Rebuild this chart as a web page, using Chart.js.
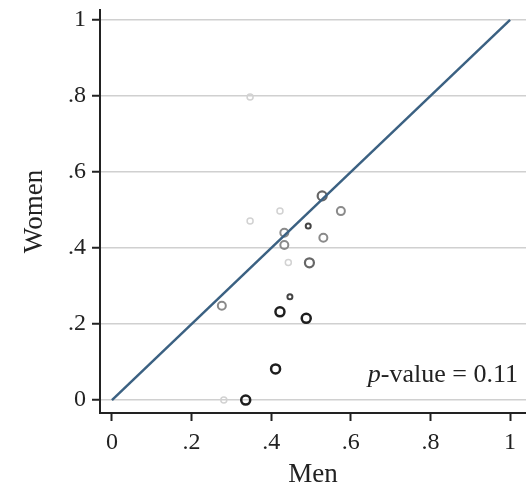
<!DOCTYPE html>
<html>
<head>
<meta charset="utf-8">
<script src="https://cdn.jsdelivr.net/npm/chart.js@4"></script>
<style>
  body { margin: 0; background: #fff; }
  canvas { display: block; }
</style>
</head>
<body>
<canvas id="scatter" width="526" height="492"></canvas>
<script>
// share of men (x) and women (y), grouped by marker shade
const blackMen = [0.336, 0.411, 0.488, 0.422];
const blackWomen = [0.0, 0.082, 0.215, 0.232];
const darkSmallMen = [0.447, 0.493];
const darkSmallWomen = [0.272, 0.458];
const darkMen = [0.528, 0.496];
const darkWomen = [0.537, 0.361];
const midMen = [0.531, 0.433, 0.433, 0.276, 0.575];
const midWomen = [0.427, 0.440, 0.408, 0.248, 0.497];
const lightMen = [0.422, 0.347, 0.443, 0.347, 0.281];
const lightWomen = [0.497, 0.471, 0.362, 0.797, 0.0];
const diagonal = [0, 1];

const tickValues = [0, 0.2, 0.4, 0.6, 0.8, 1];
const tickLabels = ["0", ".2", ".4", ".6", ".8", "1"];
const pValue = "0.11";

function pts(xs, ys) {
  return xs.map((x, i) => ({x: x, y: ys[i]}));
}

const FONT = "'Liberation Serif', 'DejaVu Serif', serif";

const pValueText = {
  id: "pValueText",
  afterDraw(chart) {
    const ctx = chart.ctx;
    ctx.save();
    ctx.fillStyle = "#222";
    ctx.textBaseline = "alphabetic";
    ctx.font = "italic 26px " + FONT;
    const pw = ctx.measureText("p").width;
    ctx.font = "26px " + FONT;
    const rest = "-value = " + pValue;
    const rw = ctx.measureText(rest).width;
    const right = 518, base = 382;
    ctx.font = "italic 26px " + FONT;
    ctx.fillText("p", right - rw - pw, base);
    ctx.font = "26px " + FONT;
    ctx.fillText(rest, right - rw, base);
    ctx.restore();
  }
};

function group(xs, ys, color, r, bw) {
  return {
    type: "scatter",
    data: pts(xs, ys),
    pointStyle: "circle",
    pointRadius: r,
    borderColor: color,
    borderWidth: bw,
    backgroundColor: "rgba(255,255,255,0)"
  };
}

const chart = new Chart(document.getElementById("scatter"), {
  type: "scatter",
  data: {
    datasets: [
      {
        type: "line",
        data: pts(diagonal, diagonal),
        borderColor: "#3b6182",
        borderWidth: 2.5,
        pointRadius: 0,
        fill: false
      },
      group(lightMen, lightWomen, "#d2d2d2", 3, 1.5),
      group(midMen, midWomen, "#8a8a8a", 4, 2),
      group(darkMen, darkWomen, "#666666", 4.5, 2.2),
      group(darkSmallMen, darkSmallWomen, "#444444", 2.5, 2),
      group(blackMen, blackWomen, "#1e1e1e", 4.5, 2.5)
    ]
  },
  options: {
    responsive: false,
    animation: false,
    layout: { autoPadding: false, padding: { top: 10, right: 0, left: 0, bottom: 0 } },
    plugins: {
      legend: { display: false },
      tooltip: { enabled: false }
    },
    scales: {
      x: {
        type: "linear",
        min: -0.03,
        max: 1.04,
        afterBuildTicks: s => { s.ticks = tickValues.map(v => ({value: v})); },
        afterFit: s => { s.height = 79; s.paddingLeft = 0; s.paddingRight = 0; },
        border: { color: "#222", width: 2 },
        grid: { drawOnChartArea: false, tickLength: 8, tickColor: "#222", tickWidth: 2 },
        ticks: {
          padding: 7,
          color: "#222",
          font: { family: FONT, size: 24 },
          callback: (v, i) => tickLabels[i]
        },
        title: {
          display: true,
          text: "Men",
          color: "#222",
          padding: { top: 0, bottom: 1 },
          font: { family: FONT, size: 27 }
        }
      },
      y: {
        type: "linear",
        min: -0.034,
        max: 1.026,
        afterBuildTicks: s => { s.ticks = tickValues.map(v => ({value: v})); },
        afterFit: s => { s.width = 100; s.paddingTop = 0; s.paddingBottom = 0; },
        border: { color: "#222", width: 2 },
        grid: { color: "#d0d0d0", lineWidth: 1.5, tickLength: 8, tickColor: "#222", tickWidth: 2 },
        ticks: {
          padding: 6,
          color: "#222",
          font: { family: FONT, size: 24 },
          callback: (v, i) => tickLabels[i]
        },
        title: {
          display: true,
          text: "Women",
          color: "#222",
          padding: { top: 19, bottom: 0 },
          font: { family: FONT, size: 27 }
        }
      }
    }
  },
  plugins: [pValueText]
});
</script>
</body>
</html>
